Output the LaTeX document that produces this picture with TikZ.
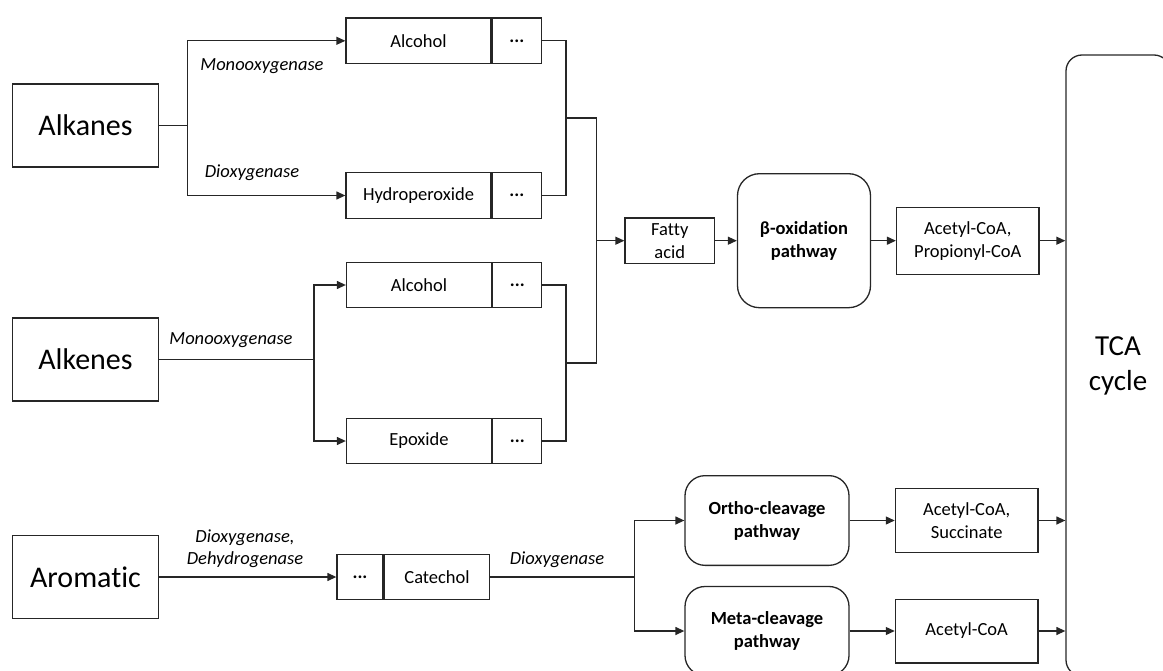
\documentclass[tikz,border=0pt]{standalone}
\usepackage{fontspec}
\setmainfont{Carlito}[Ligatures={NoCommon,NoContextual}]
\usetikzlibrary{arrows.meta}
\begin{document}
\begin{tikzpicture}[x=1pt,y=-1pt,
  line/.style={draw=black!85, line width=1.3pt},
  arr/.style={line, -{Triangle[length=9pt,width=8pt]}},
  box/.style={draw=black!85, line width=1.3pt, rectangle, inner sep=0pt, align=center, font=\fontsize{18.5}{23}\selectfont},
  bigbox/.style={box, minimum width=146pt, minimum height=83pt, font=\fontsize{30}{36}\selectfont},
  cbox/.style={box, minimum width=145pt, minimum height=45.5pt},
  dbox/.style={box, minimum width=49pt, minimum height=45.5pt, font=\fontsize{18.5}{23}\selectfont\bfseries},
  rbox/.style={box, rounded corners=20pt, font=\fontsize{18.5}{23}\selectfont\bfseries},
  lab/.style={font=\fontsize{18.5}{22}\selectfont\itshape, inner sep=0pt, align=center},
]
\useasboundingbox (0,0) rectangle (1163,671);
\clip (0,0) rectangle (1163,671);

% sources
\node[bigbox] (alkanes) at (85.5,125.5) {Alkanes};
\node[bigbox] (alkenes) at (85.5,359.5) {Alkenes};
\node[bigbox] (aromatic) at (85.5,577) {Aromatic};

% alkane products
\node[cbox] (alc1) at (418.5,40.8) {Alcohol};
\node[dbox, anchor=west] (alc1d) at (alc1.east) {...};
\node[cbox] (hyd) at (418.5,195.5) {Hydroperoxide};
\node[dbox, anchor=west] (hydd) at (hyd.east) {...};

% alkene products
\node[cbox] (alc2) at (419,285) {Alcohol};
\node[dbox, anchor=west] (alc2d) at (alc2.east) {...};
\node[cbox] (epox) at (419,441) {Epoxide};
\node[dbox, anchor=west] (epoxd) at (epox.east) {...};

% catechol
\node[box, minimum width=46pt, minimum height=45.5pt, font=\fontsize{18.5}{23}\selectfont\bfseries] (catd) at (360,577) {...};
\node[box, minimum width=105.5pt, minimum height=45.5pt, anchor=west] (cat) at (catd.east) {Catechol};

% middle column
\node[box, minimum width=89.6pt, minimum height=45.3pt] (fatty) at (669.8,240.7) {Fatty\\acid};
\node[rbox, rounded corners=22pt, minimum width=133pt, minimum height=134pt] (beta) at (804,240.7) {β-oxidation\\pathway};
\node[box, minimum width=142.5pt, minimum height=67pt] (acp) at (967.8,240.7) {Acetyl-CoA,\\Propionyl-CoA};

\node[rbox, minimum width=164pt, minimum height=89.7pt] (ortho) at (767,520.5) {Ortho-cleavage\\pathway};
\node[rbox, minimum width=164pt, minimum height=89pt] (meta) at (767,631) {Meta-cleavage\\pathway};
\node[box, minimum width=142.6pt, minimum height=64.4pt] (succ) at (966.7,520.5) {Acetyl-CoA,\\Succinate};
\node[box, minimum width=142.6pt, minimum height=63.7pt] (acet) at (966.7,631) {Acetyl-CoA};

% TCA
\node[box, rounded corners=16pt, minimum width=104pt, minimum height=621pt, font=\fontsize{29}{35}\selectfont] (tca) at (1118,365.5) {TCA\\cycle};

% alkane branches
\coordinate (j1) at (187.5,125.5);
\draw[line] (alkanes.east) -- (j1);
\draw[arr] (j1) |- (alc1.west);
\draw[arr] (j1) |- (hyd.west);
\node[lab] (l1) at (262,66) {Monooxygenase};
\node[lab] (l2) at (252,173) {Dioxygenase};

% alkene branches
\coordinate (j2) at (314,359.5);
\draw[line] (alkenes.east) -- (j2);
\draw[arr] (j2) |- (alc2.west);
\draw[arr] (j2) |- (epox.west);
\node[lab] (l3) at (231,340) {Monooxygenase};

% collectors
\coordinate (c1) at (566,118);
\coordinate (c2) at (566,363);
\coordinate (f) at (596.5,240.7);
\draw[line] (alc1d.east) -| (c1);
\draw[line] (hydd.east) -| (c1);
\draw[line] (alc2d.east) -| (c2);
\draw[line] (epoxd.east) -| (c2);
\draw[line] (c1) -| (f);
\draw[line] (c2) -| (f);
\draw[arr] (f) -- (fatty.west);
\draw[arr] (fatty.east) -- (beta.west);
\draw[arr] (beta.east) -- (acp.west);
\draw[arr] (acp.east) -- (acp.east -| tca.west);

% aromatic branch
\draw[arr] (aromatic.east) -- (catd.west);
\node[lab] (l4) at (245,549) {Dioxygenase,\\Dehydrogenase};
\coordinate (j3) at (634.2,577);
\draw[line] (cat.east) -- (j3);
\node[lab] (l5) at (557,560) {Dioxygenase};
\draw[arr] (j3) |- (ortho.west);
\draw[arr] (j3) |- (meta.west);
\draw[arr] (ortho.east) -- (succ.west);
\draw[arr] (meta.east) -- (acet.west);
\draw[arr] (succ.east) -- (succ.east -| tca.west);
\draw[arr] (acet.east) -- (acet.east -| tca.west);
\end{tikzpicture}
\end{document}
